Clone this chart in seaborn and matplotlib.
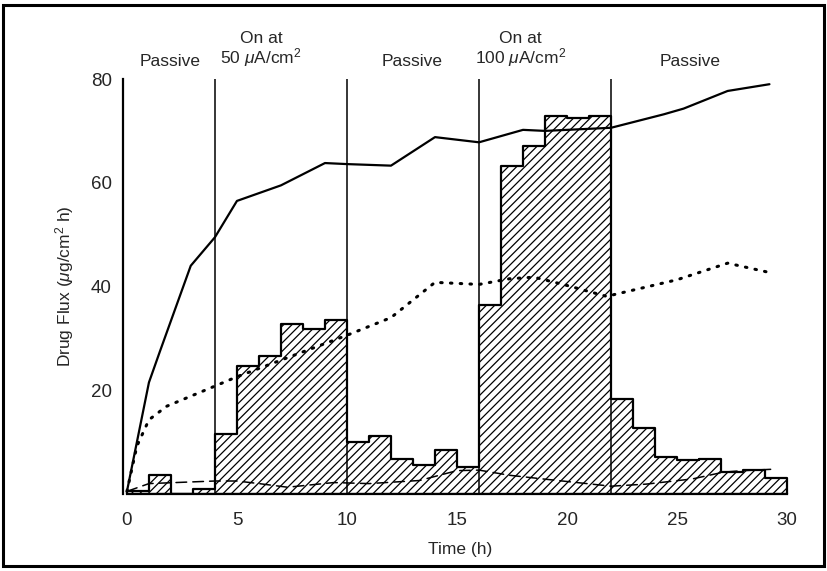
import numpy as np
import pandas as pd
import matplotlib
matplotlib.use("Agg")
import matplotlib.pyplot as plt
import matplotlib.patches as mpatches
import seaborn as sns

# ---- data ----
bin_edges = list(range(0, 31))
bar_flux = [0.6, 3.7, 0.0, 1.0, 11.6, 24.7, 26.6, 32.7, 31.9, 33.5,
            10.1, 11.2, 6.8, 5.5, 8.4, 5.2, 36.4, 63.2, 67.0, 72.9,
            72.5, 72.9, 18.4, 12.8, 7.1, 6.5, 6.7, 4.3, 4.7, 3.0]

solid_t = [0, 1, 1.5, 2.9, 4, 5, 7, 9, 10, 12, 14, 16, 18, 19, 22, 24.4, 25.3, 27.3, 29.2]
solid_v = [0.5, 21.5, 27.5, 44, 49.5, 56.5, 59.5, 63.8, 63.6, 63.3, 68.8, 67.8, 70.2, 70.0,
           70.6, 73.2, 74.3, 77.7, 79.0]

dotted_t = [0, 0.45, 1.0, 1.8, 4, 5, 10, 12, 14, 16, 17.4, 18.5, 20, 21.8, 25, 27.3, 29.2]
dotted_v = [0.5, 9.2, 14.3, 16.9, 20.8, 22.6, 30.6, 34, 40.8, 40.4, 41.5, 41.8, 40.2, 38.1,
            41.3, 44.5, 42.7]

dashed_t = [0, 1, 4, 5, 6, 7.3, 9.4, 11, 13.3, 15, 16, 17.4, 18.9, 20.9, 22, 23.6, 25.7,
            27.1, 28, 29.5]
dashed_v = [0.5, 2.0, 2.5, 2.5, 2.0, 1.3, 2.2, 2.0, 2.6, 4.5, 4.6, 3.6, 2.9, 2.0, 1.5, 1.9,
            2.9, 4.2, 4.5, 4.8]

phase_bounds = [4, 10, 16, 22]
phase_labels = ["Passive", "On at\n50 $\\mu$A/cm$^2$", "Passive",
                "On at\n100 $\\mu$A/cm$^2$", "Passive"]
phase_label_x = [1.95, 6.1, 12.95, 17.9, 25.6]

y_ticks = [20, 40, 60, 80]
x_ticks = [0, 5, 10, 15, 20, 25, 30]

# ---- style ----
sns.set_theme(style="white")
FONT = ["Liberation Sans", "DejaVu Sans"]
plt.rcParams["font.family"] = FONT
plt.rcParams["mathtext.fontset"] = "custom"
plt.rcParams["mathtext.rm"] = "Liberation Sans"
plt.rcParams["mathtext.it"] = "Liberation Sans:italic"
plt.rcParams["hatch.linewidth"] = 0.9

fig = plt.figure(figsize=(8.27, 5.71), dpi=100)
ax = fig.add_axes([0.1487, 0.1349, 0.8163, 0.7267])

centers = [e + 0.5 for e in bin_edges[:-1]]
bars_df = pd.DataFrame({"t": centers, "flux": bar_flux})
sns.histplot(data=bars_df, x="t", weights="flux", bins=bin_edges, element="step",
             fill=True, facecolor="white", edgecolor="black", linewidth=1.6,
             hatch="////", alpha=1, ax=ax)

sns.lineplot(x=solid_t, y=solid_v, color="black", linewidth=1.6, ax=ax, zorder=4)
sns.lineplot(x=dotted_t, y=dotted_v, color="black", linewidth=2.2,
             linestyle=(0, (0.5, 2.7)), ax=ax, zorder=4)
sns.lineplot(x=dashed_t, y=dashed_v, color="black", linewidth=1.1,
             linestyle=(0, (7, 4)), ax=ax, zorder=4)
for ln in ax.get_lines():
    ln.set_solid_capstyle("round")
    ln.set_dash_capstyle("round")

ax.vlines(phase_bounds, 0, 80.8, colors="black", linewidth=1.1, zorder=5)

for lab, xx in zip(phase_labels, phase_label_x):
    ax.text(xx, 82.0, lab, ha="center", va="bottom", fontsize=12.5,
            linespacing=1.0, clip_on=False)

ax.set_xlim(-0.18, 30.5)
ax.set_ylim(0, 80)
ax.set_xticks(x_ticks)
ax.set_yticks(y_ticks)
ax.tick_params(axis="y", direction="in", length=9, width=1.5, pad=8, labelsize=13.5)
ax.tick_params(axis="x", length=0, pad=13, labelsize=13.5)
ax.set_xlabel("Time (h)", fontsize=12.5, labelpad=9)
ax.set_ylabel("Drug Flux ($\\mu$g/cm$^2$ h)", fontsize=12.5, labelpad=11)
for s in ["top", "right"]:
    ax.spines[s].set_visible(False)
ax.spines["left"].set_linewidth(1.6)
ax.spines["bottom"].set_linewidth(1.6)
ax.spines["left"].set_color("black")
ax.spines["bottom"].set_color("black")
ax.spines["bottom"].set_bounds(0, 30)
ax.grid(False)

fig.patches.append(mpatches.Rectangle((0.004, 0.008), 0.992, 0.984, transform=fig.transFigure,
                                      fill=False, edgecolor="black", linewidth=2.2))

fig.savefig("out.png", dpi=100)
